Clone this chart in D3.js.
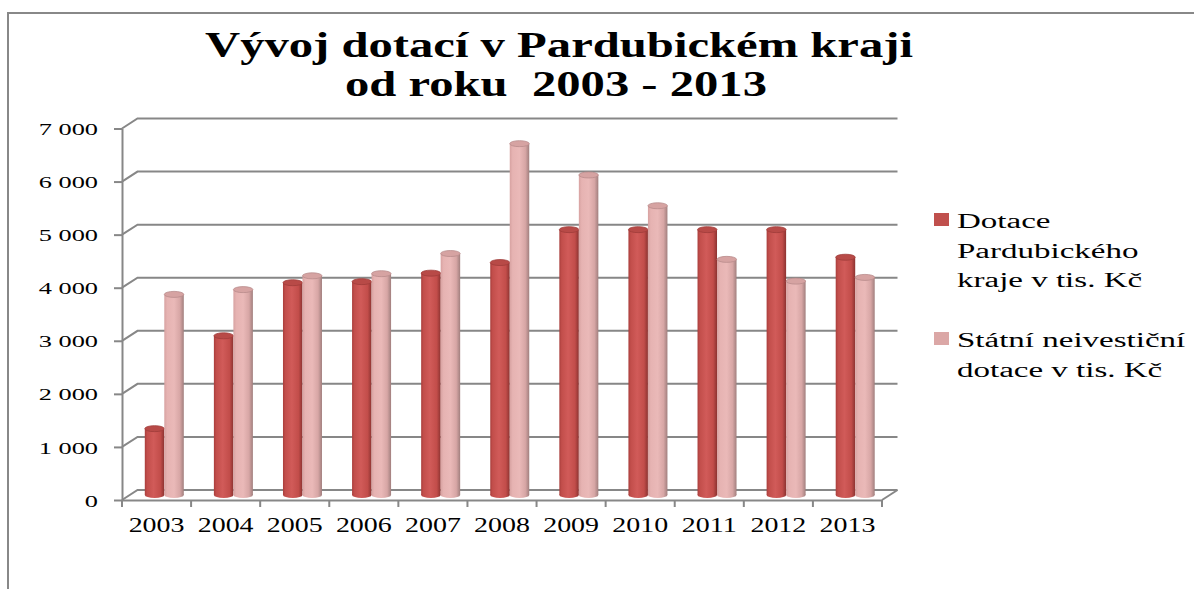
<!DOCTYPE html>
<html>
<head>
<meta charset="utf-8">
<script src="https://cdn.jsdelivr.net/npm/d3@7"></script>
<style>
  body { margin: 0; background: #fff; }
  svg { display: block; }
  text { font-family: "Liberation Serif", "Times New Roman", serif; fill: #000; }
</style>
</head>
<body>
<svg width="1194" height="589"></svg>
<script>
var years = ["2003", "2004", "2005", "2006", "2007", "2008", "2009", "2010", "2011", "2012", "2013"];
var regional = [1250, 3000, 4000, 4020, 4180, 4380, 5000, 5000, 5000, 5000, 4480];
var stateAid = [3780, 3870, 4130, 4170, 4550, 6620, 6030, 5450, 4440, 4030, 4100];
var legendLines = [
  ["Dotace", "Pardubického", "kraje v tis. Kč"],
  ["Státní neivestiční", "dotace v tis. Kč"]
];
var yTicks = [0, 1000, 2000, 3000, 4000, 5000, 6000, 7000];
var titleLines = ["Vývoj dotací v Pardubickém kraji", "od roku  2003 - 2013"];

var svg = d3.select("svg");

var plotLeft = 122, plotRight = 882, plotBottom = 500, plotTop = 128.5;
var depthX = 15.5, depthY = -10;
var gridColor = "#878787";

var x = d3.scaleBand().domain(years).range([plotLeft, plotRight]);
var y = d3.scaleLinear().domain([0, 7000]).range([plotBottom, plotTop]);
var series = d3.scaleBand().domain([0, 1]).range([-19.5, 19.5]);

var locale = d3.formatLocale({decimal: ",", thousands: " ", grouping: [3], currency: ["", ""]});
var fmt = locale.format(",d");

// stretch text horizontally like the original picture
function stretch(sel, k) {
  sel.each(function() {
    var w = this.getComputedTextLength();
    d3.select(this).attr("textLength", w * k).attr("lengthAdjust", "spacingAndGlyphs");
  });
}

// outer frame (top + left only)
svg.append("path")
  .attr("d", "M8,589 L8,13 L1194,13")
  .attr("fill", "none")
  .attr("stroke", "#888")
  .attr("stroke-width", 2);

// title
var title = svg.append("g");
title.selectAll("text")
  .data(titleLines)
  .enter().append("text")
    .attr("x", (d, i) => i == 0 ? 559 : 556)
    .attr("y", (d, i) => i == 0 ? 57 : 96)
    .attr("text-anchor", "middle")
    .attr("font-size", 36)
    .attr("font-weight", "bold")
    .style("white-space", "pre")
    .attr("textLength", (d, i) => i == 0 ? 708 : 422)
    .attr("lengthAdjust", "spacingAndGlyphs")
    .text(d => d);

// side wall + back wall grid lines
svg.append("g")
  .selectAll("path")
  .data(yTicks)
  .enter().append("path")
    .attr("d", t => "M" + plotLeft + "," + y(t) + " L" + (plotLeft + depthX) + "," + (y(t) + depthY) +
                    " L" + (plotRight + depthX) + "," + (y(t) + depthY))
    .attr("fill", "none")
    .attr("stroke", gridColor)
    .attr("stroke-width", 2);

// floor right edge
svg.append("path")
  .attr("d", "M" + (plotRight + depthX) + "," + (y(0) + depthY) + " L" + plotRight + "," + y(0))
  .attr("fill", "none")
  .attr("stroke", gridColor)
  .attr("stroke-width", 2);

// gradients for cylinders
var defs = svg.append("defs");
function cylGradient(id, stops) {
  var g = defs.append("linearGradient").attr("id", id)
    .attr("x1", "0%").attr("x2", "100%").attr("y1", "0%").attr("y2", "0%");
  stops.forEach(s => g.append("stop").attr("offset", s[0]).attr("stop-color", s[1]));
}
cylGradient("redCyl", [[0, "#a93e3c"], [0.12, "#c24e4b"], [0.45, "#d15b59"], [0.8, "#c24d4a"], [1, "#8c3331"]]);
cylGradient("pinkCyl", [[0, "#d7a2a1"], [0.15, "#e6b3b2"], [0.5, "#eab9b8"], [0.8, "#d7a6a5"], [1, "#a17f7e"]]);

var colors = ["url(#redCyl)", "url(#pinkCyl)"];
var topColors = ["#b84a47", "#d6a3a2"];
var legendColors = ["#c0504d", "#dba7a6"];

var barData = [];
years.forEach(function(yr, i) {
  [regional[i], stateAid[i]].forEach(function(v, s) {
    barData.push({year: yr, s: s, value: v});
  });
});

var bars = svg.append("g")
  .selectAll("g")
  .data(barData)
  .enter().append("g");

var halfX = depthX / 2, halfY = depthY / 2;
var ry = 3;
function barX(d) { return x(d.year) + x.bandwidth() / 2 + halfX + series(d.s); }

bars.append("ellipse")
  .attr("cx", d => barX(d) + series.bandwidth() / 2)
  .attr("cy", y(0) + halfY)
  .attr("rx", series.bandwidth() / 2)
  .attr("ry", ry)
  .attr("fill", d => colors[d.s]);

bars.append("rect")
  .attr("x", d => barX(d))
  .attr("y", d => y(d.value) + halfY)
  .attr("width", series.bandwidth())
  .attr("height", d => y(0) - y(d.value))
  .attr("fill", d => colors[d.s]);

bars.append("ellipse")
  .attr("cx", d => barX(d) + series.bandwidth() / 2)
  .attr("cy", d => y(d.value) + halfY)
  .attr("rx", series.bandwidth() / 2)
  .attr("ry", ry)
  .attr("fill", d => topColors[d.s])
  .attr("stroke", d => d.s == 0 ? "#a03c3a" : "#b98c8b")
  .attr("stroke-width", 0.8);

// y axis
var yAxis = svg.append("g")
  .attr("transform", "translate(" + plotLeft + ",0)")
  .call(d3.axisLeft(y).tickValues(yTicks).tickFormat(fmt).tickSize(8).tickSizeOuter(0).tickPadding(16));
yAxis.select(".domain").attr("stroke", gridColor).attr("stroke-width", 2);
yAxis.selectAll(".tick line").attr("stroke", gridColor).attr("stroke-width", 2);
yAxis.selectAll(".tick text")
  .attr("font-family", null)
  .attr("font-size", 17)
  .attr("dy", "0.36em")
  .call(stretch, 1.55);

// x axis
var xAxis = svg.append("g")
  .attr("transform", "translate(0," + plotBottom + ")")
  .call(d3.axisBottom(x).tickSize(0).tickSizeOuter(0).tickPadding(17));
xAxis.select(".domain").attr("stroke", gridColor).attr("stroke-width", 2);
xAxis.selectAll(".tick text")
  .attr("font-family", null)
  .attr("font-size", 21)
  .call(stretch, 1.33);
xAxis.selectAll(".bound")
  .data(years.map(d => x(d)).concat([plotRight]))
  .enter().append("line")
    .attr("class", "bound")
    .attr("x1", d => d).attr("x2", d => d)
    .attr("y1", 0).attr("y2", 7)
    .attr("stroke", gridColor)
    .attr("stroke-width", 2);

// legend
var legend = svg.append("g");
var legendTop = [228, 347];
legendLines.forEach(function(lines, s) {
  legend.append("rect")
    .attr("x", 934)
    .attr("y", legendTop[s] - 15)
    .attr("width", 15)
    .attr("height", 13)
    .attr("fill", legendColors[s]);
  legend.selectAll(".l" + s)
    .data(lines)
    .enter().append("text")
      .attr("class", "l" + s)
      .attr("x", 957)
      .attr("y", (d, i) => legendTop[s] + i * 29.5)
      .attr("font-size", 20)
      .text(d => d)
      .call(stretch, 1.65);
});
</script>
</body>
</html>
